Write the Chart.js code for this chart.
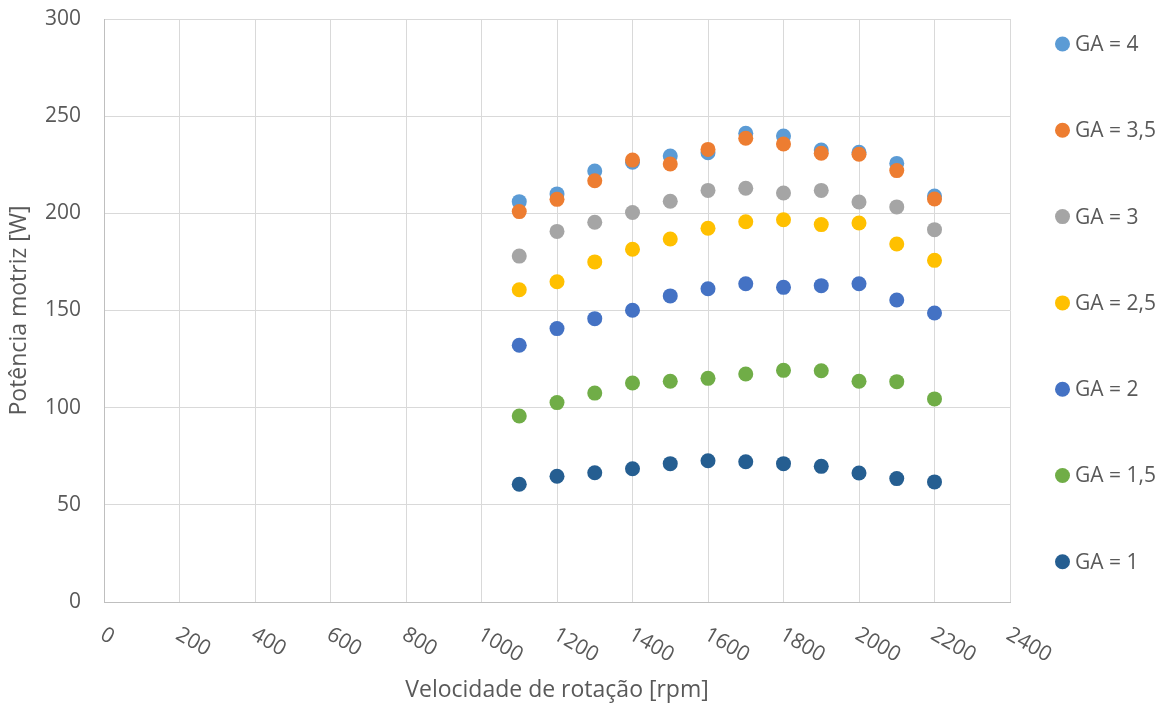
<!DOCTYPE html>
<html>
<head>
<meta charset="utf-8">
<script src="https://cdn.jsdelivr.net/npm/chart.js@4/dist/chart.umd.min.js"></script>
<style>
  html, body { margin: 0; padding: 0; background: #fff; }
  #wrap { width: 1164px; height: 709px; position: relative; }
</style>
</head>
<body>
<div id="wrap"><canvas id="c" width="1164" height="709"></canvas></div>
<script>
const rpm = [1100, 1200, 1300, 1400, 1500, 1600, 1700, 1800, 1900, 2000, 2100, 2200];

const ga1   = [60.6, 64.7, 66.5, 68.6, 71.2, 72.7, 72.2, 71.2, 69.8, 66.4, 63.5, 61.8];
const ga15  = [95.7, 102.6, 107.5, 112.7, 113.6, 115.1, 117.3, 119.2, 119.0, 113.6, 113.4, 104.5];
const ga2   = [132.1, 140.7, 145.8, 150.1, 157.5, 161.2, 163.8, 161.9, 162.8, 163.8, 155.4, 148.7];
const ga25  = [160.7, 164.8, 175.0, 181.5, 186.8, 192.3, 195.7, 196.7, 194.2, 195.0, 184.2, 175.8];
const ga3   = [178.0, 190.7, 195.4, 200.4, 206.2, 211.8, 212.9, 210.5, 211.8, 205.8, 203.3, 191.6];
const ga35  = [200.9, 207.2, 216.8, 227.4, 225.4, 232.9, 238.6, 235.7, 230.9, 230.4, 222.0, 207.4];
const ga4   = [206.0, 210.0, 221.8, 226.3, 229.5, 231.2, 241.2, 239.8, 232.6, 231.4, 225.7, 208.9];

const seriesLabels = ['GA = 1', 'GA = 1,5', 'GA = 2', 'GA = 2,5', 'GA = 3', 'GA = 3,5', 'GA = 4'];
const seriesValues = [ga1, ga15, ga2, ga25, ga3, ga35, ga4];
const seriesColors = ['#255E91', '#70AD47', '#4472C4', '#FFC000', '#A5A5A5', '#ED7D31', '#5B9BD5'];

const xTicks = [0, 200, 400, 600, 800, 1000, 1200, 1400, 1600, 1800, 2000, 2200, 2400];
const yTicks = [0, 50, 100, 150, 200, 250, 300];

const FONT = '"Open Sans", "DejaVu Sans", sans-serif';
const TXT = '#595959';

const datasets = seriesValues.map((vals, i) => ({
  label: seriesLabels[i],
  data: rpm.map((r, j) => ({ x: r, y: vals[j] })),
  backgroundColor: seriesColors[i],
  borderColor: seriesColors[i],
  borderWidth: 0,
  pointRadius: 7.5,
  pointHoverRadius: 7.5,
  showLine: false
}));

const xLabelPlugin = {
  id: 'xLabels',
  afterDraw(chart) {
    const ctx = chart.ctx;
    const xs = chart.scales.x;
    ctx.save();
    ctx.font = '21px ' + FONT;
    ctx.fillStyle = TXT;
    ctx.textAlign = 'left';
    ctx.textBaseline = 'middle';
    xTicks.forEach(v => {
      const px = xs.getPixelForValue(v);
      ctx.save();
      ctx.translate(px - 2, 633);
      ctx.rotate(30 * Math.PI / 180);
      ctx.fillText(String(v), 0, 0);
      ctx.restore();
    });
    ctx.restore();
  }
};

const legendPlugin = {
  id: 'sideLegend',
  afterDraw(chart) {
    const ctx = chart.ctx;
    ctx.save();
    ctx.font = '21px ' + FONT;
    ctx.textAlign = 'left';
    ctx.textBaseline = 'middle';
    const n = seriesLabels.length;
    for (let k = 0; k < n; k++) {
      const i = n - 1 - k;
      const cy = 44 + k * 86.3;
      ctx.fillStyle = seriesColors[i];
      ctx.beginPath();
      ctx.arc(1062.5, cy, 7.5, 0, Math.PI * 2);
      ctx.fill();
      ctx.fillStyle = TXT;
      ctx.fillText(seriesLabels[i], 1075, cy + 1);
    }
    ctx.restore();
  }
};

new Chart(document.getElementById('c'), {
  type: 'scatter',
  data: { datasets },
  options: {
    responsive: false,
    animation: false,
    devicePixelRatio: 1,
    layout: { padding: { top: 19, right: 154, left: 0, bottom: 0 } },
    plugins: {
      legend: { display: false },
      tooltip: { enabled: false }
    },
    scales: {
      x: {
        type: 'linear',
        min: 0, max: 2400,
        afterBuildTicks(scale) { scale.ticks = xTicks.map(v => ({ value: v })); },
        afterFit(scale) { scale.height = 107; },
        ticks: { display: false },
        grid: { color: '#D9D9D9', lineWidth: 1, drawTicks: false },
        border: { color: '#BFBFBF', width: 1 },
        title: {
          display: true,
          text: 'Velocidade de rotação [rpm]',
          color: TXT,
          font: { family: FONT, size: 23 },
          padding: { top: 0, bottom: 5 }
        }
      },
      y: {
        type: 'linear',
        min: 0, max: 300,
        afterBuildTicks(scale) { scale.ticks = yTicks.map(v => ({ value: v })); },
        afterFit(scale) { scale.width = 104; },
        ticks: { color: TXT, font: { family: FONT, size: 21 }, padding: 0 },
        grid: { color: '#D9D9D9', lineWidth: 1, drawTicks: true, tickLength: 23, tickColor: 'rgba(0,0,0,0)' },
        border: { color: '#BFBFBF', width: 1 },
        title: {
          display: true,
          text: 'Potência motriz [W]',
          color: TXT,
          font: { family: FONT, size: 23 },
          padding: { top: 6, bottom: 0 }
        }
      }
    }
  },
  plugins: [xLabelPlugin, legendPlugin]
});
</script>
</body>
</html>
